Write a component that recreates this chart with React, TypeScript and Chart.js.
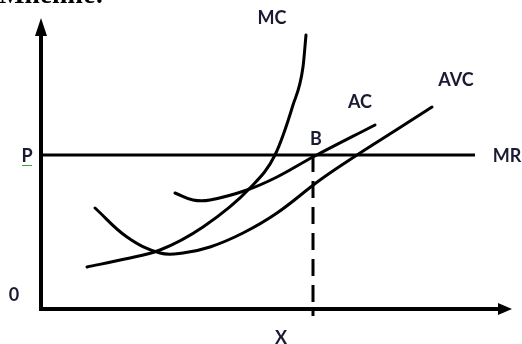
import React, { useEffect, useRef } from "react";
import { Chart, registerables } from "chart.js";

Chart.register(...registerables);

// Curve data (economic units; origin at the axis corner)
const mcX = [4.6, 8.4, 11.9, 16.2, 20.9, 23.4, 25.2, 26.2, 26.5];
const mcY = [4.2, 5.0, 5.9, 8.2, 12.1, 15.4, 20.4, 24.2, 27.4];

const avcX = [5.4, 8.6, 11.9, 14.2, 16.9, 20.2, 23.6, 27.9, 31.6, 35.2, 39.1];
const avcY = [10.1, 7.2, 5.6, 5.6, 6.2, 7.6, 9.6, 12.9, 15.4, 17.7, 20.2];

const acX = [13.4, 15.2, 16.9, 20.6, 23.6, 27.2, 33.4];
const acY = [11.6, 10.9, 10.9, 11.9, 13.2, 15.2, 18.4];

const priceP = 15.4;
const mrX = [0, 43.4];
const outputX = 27.2;
const dashY = [15.4, -0.7];

const yAxisTop = 27.4;
const xAxisRight = 45.8;
const yArrowTip = 29.1;
const xArrowTip = 47.1;

const titleText = "Мнение:";

const labelTexts = ["MC", "AC", "AVC", "B", "MR", "P", "0", "X"];
const labelX = [23.1, 31.9, 41.5, 27.5, 46.6, -1.4, -2.7, 24.0];
const labelY = [29.1, 20.7, 22.9, 17.0, 15.3, 15.3, 1.4, -2.9];

const pts = (xs: number[], ys: number[]) => xs.map((x, i) => ({ x, y: ys[i] }));

const ink = "#000000";
const labelInk = "#1a1a33";

const overlay = {
  id: "overlay",
  afterDatasetsDraw(chart: any) {
    const { ctx, scales } = chart;
    const xs = scales.x;
    const ys = scales.y;
    ctx.save();
    // arrowheads
    ctx.fillStyle = ink;
    const tx = xs.getPixelForValue(0);
    const ty = ys.getPixelForValue(yArrowTip);
    const by = ys.getPixelForValue(yAxisTop);
    ctx.beginPath();
    ctx.moveTo(tx, ty);
    ctx.lineTo(tx - 6, by + 1);
    ctx.lineTo(tx + 6, by + 1);
    ctx.closePath();
    ctx.fill();
    const hx = xs.getPixelForValue(xArrowTip);
    const hy = ys.getPixelForValue(0);
    const bx = xs.getPixelForValue(xAxisRight);
    ctx.beginPath();
    ctx.moveTo(hx, hy);
    ctx.lineTo(bx - 1, hy - 6);
    ctx.lineTo(bx - 1, hy + 6);
    ctx.closePath();
    ctx.fill();

    // title (cropped at top)
    ctx.fillStyle = "#000";
    ctx.font = "bold 27px 'Liberation Serif', 'DejaVu Serif', serif";
    ctx.textAlign = "left";
    ctx.textBaseline = "alphabetic";
    ctx.fillText(titleText, -1, 3);

    // labels
    ctx.fillStyle = labelInk;
    ctx.font = "bold 18px Lato, 'Open Sans', sans-serif";
    ctx.textAlign = "center";
    ctx.textBaseline = "middle";
    labelTexts.forEach((t, i) => {
      ctx.fillText(t, xs.getPixelForValue(labelX[i]), ys.getPixelForValue(labelY[i]));
    });

    // spell-check squiggle under P
    const px = xs.getPixelForValue(labelX[5]);
    const py = ys.getPixelForValue(labelY[5]) + 9;
    ctx.strokeStyle = "#3fa34d";
    ctx.lineWidth = 1;
    ctx.beginPath();
    for (let i = 0; i <= 10; i++) {
      const x = px - 5 + i;
      const y = py + (i % 2 === 0 ? 0 : 1);
      if (i === 0) ctx.moveTo(x, y);
      else ctx.lineTo(x, y);
    }
    ctx.stroke();
    ctx.restore();
  },
};

export default function App() {
  const ref = useRef<HTMLCanvasElement>(null);
  useEffect(() => {
    if (!ref.current) return;
    const curve = (data: any[], monotone: boolean) => ({
      data,
      showLine: true,
      borderColor: ink,
      borderWidth: 3,
      pointRadius: 0,
      tension: 0.4,
      cubicInterpolationMode: monotone ? "monotone" : "default",
      borderCapStyle: "round",
      fill: false,
    });
    const straight = (data: any[], width: number, dash: number[] = []) => ({
      data,
      showLine: true,
      borderColor: ink,
      borderWidth: width,
      borderDash: dash,
      pointRadius: 0,
      tension: 0,
      borderCapStyle: "butt",
      fill: false,
    });
    const chart = new Chart(ref.current, {
      type: "scatter",
      data: {
        datasets: [
          straight([{ x: 0, y: -0.1 }, { x: 0, y: yAxisTop }], 4) as any,
          straight([{ x: -0.2, y: 0 }, { x: xAxisRight, y: 0 }], 4) as any,
          straight(pts(mrX, [priceP, priceP]), 3) as any,
          straight(pts([outputX, outputX], dashY), 3, [17, 9]) as any,
          curve(pts(mcX, mcY), true) as any,
          curve(pts(avcX, avcY), false) as any,
          curve(pts(acX, acY), false) as any,
        ],
      },
      options: {
        animation: false,
        responsive: false,
        maintainAspectRatio: false,
        layout: { padding: 0 },
        plugins: { legend: { display: false }, tooltip: { enabled: false }, title: { display: false } },
        scales: {
          x: { type: "linear", min: -4.1, max: 48.1, display: false },
          y: { type: "linear", min: -3.5, max: 30.9, display: false },
        },
      },
      plugins: [overlay],
    });
    return () => chart.destroy();
  }, []);
  return (
    <div style={{ position: "fixed", left: 0, top: 0, width: 522, height: 344, background: "#fff" }}>
      <canvas ref={ref} width={522} height={344} style={{ display: "block" }} />
    </div>
  );
}
